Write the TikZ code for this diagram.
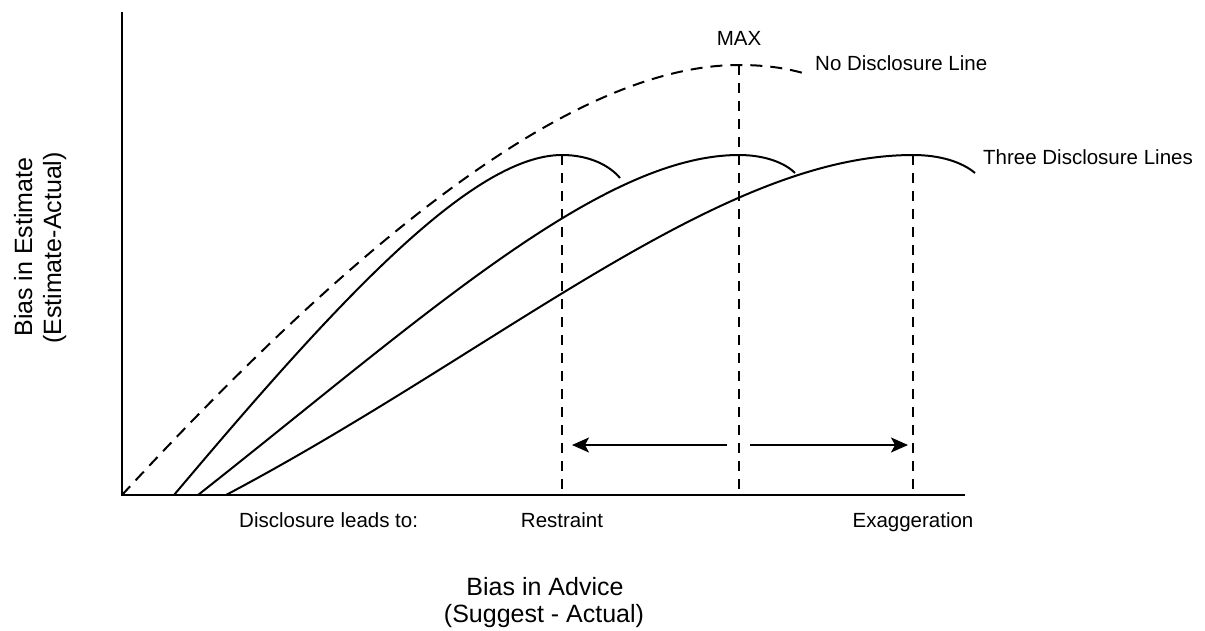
\documentclass[tikz,border=0pt]{standalone}
\usepackage{fontspec}
\setmainfont{Liberation Sans}
\usetikzlibrary{arrows.meta}
\begin{document}
\begin{tikzpicture}[x=1pt,y=-1pt,
  axis/.style={line width=2.4pt},
  curve/.style={line width=2pt},
  dcurve/.style={line width=2pt,dash pattern=on 12pt off 8pt},
  vdash/.style={line width=2pt,dash pattern=on 10pt off 8pt},
  arr/.style={line width=2pt,-{Stealth[length=17pt,width=15pt,inset=4pt]}},
  small/.style={font=\fontsize{20.5}{24}\selectfont,inner sep=0pt},
  big/.style={font=\fontsize{25}{28}\selectfont,inner sep=0pt}]
\useasboundingbox (0,0) rectangle (1205,630);
% axes
\coordinate (O) at (122,495);
\coordinate (ytop) at (122,12);
\coordinate (xend) at (965,495);
\draw[axis] (ytop) -- (O) -- (xend);
% vertical dashed lines
\coordinate (rTop) at (562,155);
\coordinate (rBot) at (562,495);
\coordinate (mTop) at (739,65);
\coordinate (mBot) at (739,495);
\coordinate (eTop) at (913,155);
\coordinate (eBot) at (913,495);
\draw[vdash] (rTop) -- (rBot);
\draw[vdash] (mTop) -- (mBot);
\draw[vdash] (eTop) -- (eBot);
% no disclosure line (dashed)
\draw[dcurve] (O) .. controls (330,270) and (560,65) .. (mTop)
  .. controls (765,65) and (785,68) .. (803,73);
% three disclosure lines
\draw[curve] (174,495) .. controls (330,310) and (470,155) .. (rTop)
  .. controls (590,155) and (610,166) .. (620,178);
\draw[curve] (198,495) .. controls (420,320) and (600,155) .. (739,155)
  .. controls (765,155) and (785,163) .. (795,173);
\draw[curve] (226,495) .. controls (500,350) and (720,155) .. (eTop)
  .. controls (940,155) and (962,162) .. (975,173);
% arrows
\coordinate (aL0) at (727,445);
\coordinate (aL1) at (572,445);
\coordinate (aR0) at (750,445);
\coordinate (aR1) at (908,445);
\draw[arr] (aL0) -- (aL1);
\draw[arr] (aR0) -- (aR1);
% labels
\node[small,anchor=base] (max) at (739,45) {MAX};
\node[small,anchor=base west] (nodl) at (815,70) {No Disclosure Line};
\node[small,anchor=base west] (tdl) at (983,164) {Three Disclosure Lines};
\node[small,anchor=base west] (dlt) at (239,527) {Disclosure leads to:};
\node[small,anchor=base] (restr) at (562,527) {Restraint};
\node[small,anchor=base] (exag) at (913,527) {Exaggeration};
\node[big,anchor=base] (xl1) at (545,595) {Bias in Advice};
\node[big,anchor=base] (xl2) at (544,622) {(Suggest - Actual)};
\node[big,anchor=base,rotate=90] (yl1) at (32,247) {Bias in Estimate};
\node[big,anchor=base,rotate=90] (yl2) at (61,248) {(Estimate-Actual)};
\end{tikzpicture}
\end{document}
